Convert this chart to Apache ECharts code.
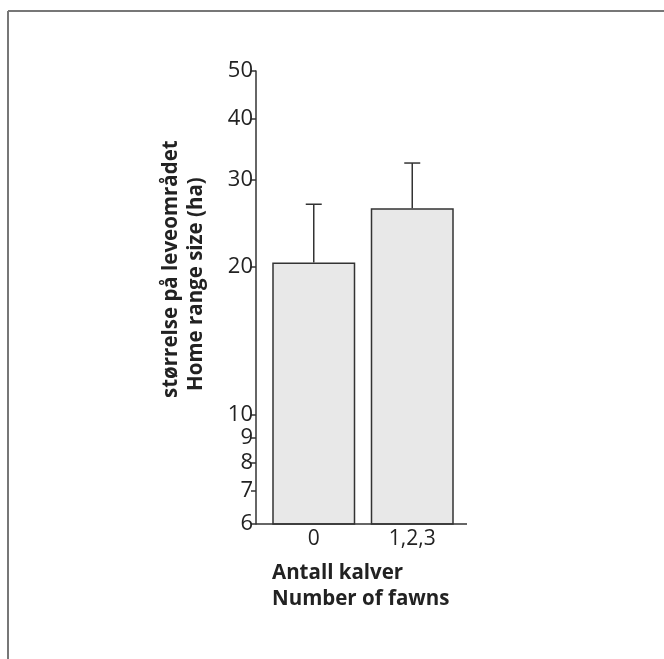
<!DOCTYPE html>
<html>
<head>
<meta charset="utf-8">
<script src="https://cdn.jsdelivr.net/npm/echarts@6/dist/echarts.min.js"></script>
<style>html,body{margin:0;padding:0;background:#fff;}#c{width:664px;height:659px;}</style>
</head>
<body>
<div id="c"></div>
<script>
const categories = ['0', '1,2,3'];
const meanValues = [20.4, 26.3];
const upperValues = [26.8, 32.5];
const yTickValues = [6, 7, 8, 9, 10, 20, 30, 40, 50];
const yTitleLines = ['størrelse på leveområdet', 'Home range size (ha)'];
const xTitleLines = ['Antall kalver', 'Number of fawns'];

const FONT = '"Open Sans", sans-serif';
const chart = echarts.init(document.getElementById('c'));
const errData = categories.map((c, i) => [i, meanValues[i], upperValues[i]]);

chart.setOption({
  animation: false,
  backgroundColor: '#fff',
  grid: { left: 264.5, top: 71, width: 197, height: 453 },
  xAxis: {
    type: 'category',
    data: categories,
    axisLine: { show: false },
    axisTick: { show: false },
    axisLabel: { color: '#222', fontSize: 21, fontFamily: FONT, margin: 5 }
  },
  yAxis: {
    type: 'log',
    logBase: 10,
    min: 6,
    max: 50,
    offset: 8.5,
    splitLine: { show: false },
    axisLine: { show: true, lineStyle: { color: '#333', width: 1.5 } },
    axisTick: { show: true, length: 5, customValues: yTickValues, lineStyle: { color: '#333', width: 1.5 } },
    axisLabel: { customValues: yTickValues, color: '#222', fontSize: 22, fontFamily: FONT, margin: 3,
      formatter: v => String(Math.round(v)) }
  },
  series: [
    {
      type: 'bar',
      data: meanValues,
      barWidth: 83,
      itemStyle: { color: '#e8e8e8', borderColor: '#333', borderWidth: 1.5 }
    },
    {
      type: 'custom',
      data: errData,
      z: 1,
      renderItem: (params, api) => {
        const x = api.value(0);
        const base = api.coord([x, api.value(1)]);
        const top = api.coord([x, api.value(2)]);
        const half = 8;
        return {
          type: 'group',
          children: [
            { type: 'line', shape: { x1: base[0], y1: base[1], x2: top[0], y2: top[1] }, style: { stroke: '#333', lineWidth: 1.5 } },
            { type: 'line', shape: { x1: top[0] - half, y1: top[1], x2: top[0] + half, y2: top[1] }, style: { stroke: '#333', lineWidth: 1.5 } }
          ]
        };
      }
    }
  ],
  graphic: [
    { type: 'line', shape: { x1: 8, y1: 11, x2: 664, y2: 11 }, style: { stroke: '#777', lineWidth: 2 } },
    { type: 'line', shape: { x1: 8, y1: 11, x2: 8, y2: 659 }, style: { stroke: '#777', lineWidth: 2 } },
    { type: 'line', shape: { x1: 256, y1: 524, x2: 467, y2: 524 }, style: { stroke: '#333', lineWidth: 1.5 }, z: 10 },
    { type: 'text', x: 171, y: 398, rotation: Math.PI / 2,
      style: { text: yTitleLines[0], font: 'bold 20.5px ' + FONT, fill: '#222', textAlign: 'left', textVerticalAlign: 'middle' } },
    { type: 'text', x: 196, y: 391, rotation: Math.PI / 2,
      style: { text: yTitleLines[1], font: 'bold 20.5px ' + FONT, fill: '#222', textAlign: 'left', textVerticalAlign: 'middle' } },
    { type: 'text', x: 272, y: 573,
      style: { text: xTitleLines[0], font: 'bold 20.5px ' + FONT, fill: '#222', textAlign: 'left', textVerticalAlign: 'middle' } },
    { type: 'text', x: 272, y: 599,
      style: { text: xTitleLines[1], font: 'bold 20.5px ' + FONT, fill: '#222', textAlign: 'left', textVerticalAlign: 'middle' } }
  ]
});
</script>
</body>
</html>
